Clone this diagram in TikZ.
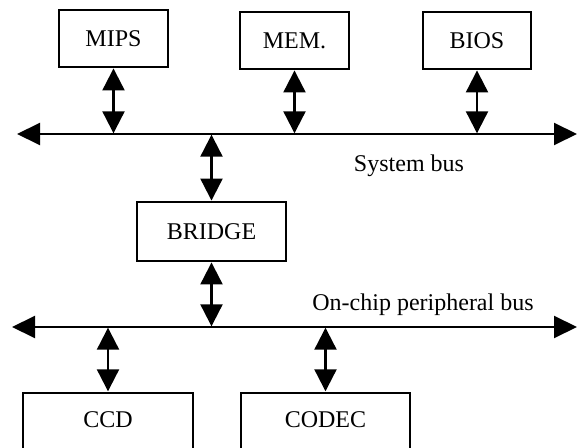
\documentclass[tikz,border=0pt]{standalone}
\usepackage{fontspec}
\setmainfont{Liberation Serif}
\usetikzlibrary{arrows.meta}
\begin{document}
\begin{tikzpicture}[x=1bp,y=-1bp,
  font=\fontsize{24bp}{28bp}\selectfont,
  box/.style={draw, line width=1.5bp, inner sep=0pt},
  bus/.style={line width=2bp, {Triangle[length=23bp,width=22bp]}-{Triangle[length=23bp,width=22bp]}},
  link/.style={line width=2.2bp, {Triangle[length=22bp,width=22bp]}-{Triangle[length=22bp,width=22bp]}, shorten <=0.7bp, shorten >=0.7bp}
]
\useasboundingbox (0,0) rectangle (577,448);
\clip (0,0) rectangle (577,448);
% boxes
\node[box, minimum width=109bp, minimum height=57bp] (mips) at (113.5,38.5) {MIPS};
\node[box, minimum width=109bp, minimum height=57bp] (mem) at (294.5,40.5) {MEM.};
\node[box, minimum width=108bp, minimum height=57bp] (bios) at (477,40.5) {BIOS};
\node[box, minimum width=149bp, minimum height=59bp] (bridge) at (211.5,231.5) {BRIDGE};
\node[box, minimum width=170bp, minimum height=70bp, anchor=north] (ccd) at (108,392) {};
\node[box, minimum width=169bp, minimum height=70bp, anchor=north] (codec) at (325.5,392) {};
\node[anchor=base] (ccdt) at ([yshift=-35bp]ccd.north) {CCD};
\node[anchor=base] (codect) at ([yshift=-35bp]codec.north) {CODEC};
% buses
\coordinate (sysL) at (17,134);
\coordinate (sysR) at (577,134);
\coordinate (perL) at (12,327);
\coordinate (perR) at (577,327);
\draw[bus] (sysL) -- (sysR);
\draw[bus] (perL) -- (perR);
\node[anchor=base] (syslab) at (409,172) {System bus};
\node[anchor=base] (perlab) at (423,310) {On-chip peripheral bus};
% links
\draw[link] (mips.south) -- (mips.south |- sysL);
\draw[link] (mem.south) -- (mem.south |- sysL);
\draw[link] (bios.south) -- (bios.south |- sysL);
\draw[link] (bridge.north |- sysL) -- (bridge.north);
\draw[link] (bridge.south) -- (bridge.south |- perL);
\draw[link] (ccd.north |- perL) -- (ccd.north);
\draw[link] (codec.north |- perL) -- (codec.north);
\end{tikzpicture}
\end{document}
